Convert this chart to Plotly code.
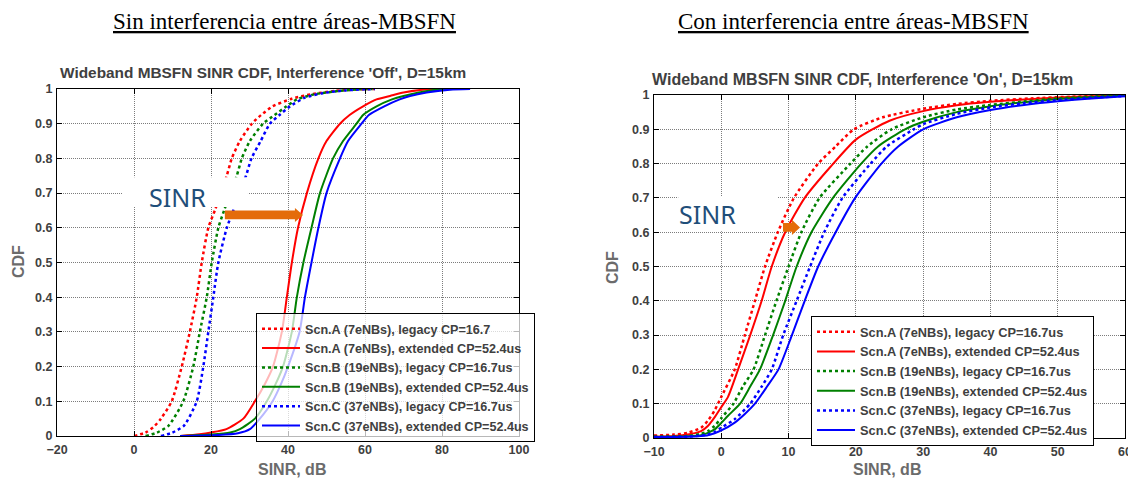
import plotly.graph_objects as go

# ---------------- data ----------------
# Left panel: Interference 'Off'
off_names = ["Scn.A (7eNBs), legacy CP=16.7",
             "Scn.A (7eNBs), extended CP=52.4us",
             "Scn.B (19eNBs), legacy CP=16.7us",
             "Scn.B (19eNBs), extended CP=52.4us",
             "Scn.C (37eNBs), legacy CP=16.7us",
             "Scn.C (37eNBs), extended CP=52.4us"]

off_a_leg_x = [0, 3, 5, 7, 9.8, 12.4, 14.5, 16.3, 17.6, 19.3, 21, 22.6, 24.1, 25.4, 27.5, 30.6, 33, 36, 41, 46, 52, 58, 62.6]
off_a_leg_y = [0, 0.01, 0.025, 0.05, 0.1, 0.2, 0.3, 0.4, 0.5, 0.6, 0.65, 0.7, 0.75, 0.8, 0.85, 0.9, 0.925, 0.95, 0.972, 0.985, 0.994, 0.999, 1.0]
off_a_ext_x = [12, 17, 20, 24, 28.4, 31.4, 34, 36.1, 38.4, 39.7, 41, 42.6, 44.9, 47.9, 50, 53.5, 56, 59.5, 63, 66.5, 70, 75, 80]
off_a_ext_y = [0, 0.005, 0.01, 0.02, 0.05, 0.1, 0.15, 0.2, 0.3, 0.4, 0.5, 0.6, 0.7, 0.8, 0.85, 0.9, 0.925, 0.95, 0.97, 0.98, 0.99, 0.998, 1.0]
off_b_leg_x = [3, 6, 9, 12.8, 15.4, 17.1, 18.9, 20.2, 21.9, 23.4, 25, 26.7, 28, 30.1, 33.5, 36.5, 39.6, 42.3, 47, 53, 58, 62]
off_b_leg_y = [0, 0.01, 0.03, 0.1, 0.2, 0.3, 0.4, 0.5, 0.6, 0.65, 0.7, 0.75, 0.8, 0.85, 0.9, 0.925, 0.95, 0.97, 0.985, 0.994, 0.999, 1.0]
off_b_ext_x = [12, 20, 25, 27.5, 31.4, 34.5, 36.8, 38.7, 41, 42.3, 44, 46.1, 48.3, 51.7, 54.3, 57.8, 59.5, 63, 67, 70, 74, 78.6, 83]
off_b_ext_y = [0, 0.004, 0.01, 0.02, 0.05, 0.1, 0.15, 0.2, 0.3, 0.4, 0.5, 0.6, 0.7, 0.8, 0.85, 0.9, 0.925, 0.95, 0.97, 0.98, 0.99, 0.998, 1.0]
off_c_leg_x = [7, 10, 13, 16.3, 18, 19.3, 20.6, 21.9, 24.1, 25.8, 27.3, 29.1, 30.5, 32.9, 35.3, 37.8, 40.5, 44.4, 49, 55, 60, 62.6]
off_c_leg_y = [0, 0.01, 0.03, 0.1, 0.2, 0.3, 0.4, 0.5, 0.6, 0.65, 0.7, 0.75, 0.8, 0.85, 0.9, 0.925, 0.95, 0.975, 0.988, 0.996, 0.999, 1.0]
off_c_ext_x = [12, 22, 27, 30.1, 32.7, 36, 38.2, 40, 43, 44.4, 46.1, 47.9, 50, 53.5, 55.6, 59.1, 61, 65, 69, 71.7, 76, 82, 87.3]
off_c_ext_y = [0, 0.003, 0.008, 0.02, 0.05, 0.1, 0.15, 0.2, 0.3, 0.4, 0.5, 0.6, 0.7, 0.8, 0.85, 0.9, 0.925, 0.95, 0.97, 0.98, 0.99, 0.998, 1.0]

# Right panel: Interference 'On'
on_names = ["Scn.A (7eNBs), legacy CP=16.7us",
            "Scn.A (7eNBs), extended CP=52.4us",
            "Scn.B (19eNBs), legacy CP=16.7us",
            "Scn.B (19eNBs), extended CP=52.4us",
            "Scn.C (37eNBs), legacy CP=16.7us",
            "Scn.C (37eNBs), extended CP=52.4us"]

on_a_leg_x = [-10, -7, -5, -3, -2, -1, 0, 2, 3.5, 5, 6.5, 8.4, 10.8, 14.4, 17, 19.7, 24, 30, 35, 40, 46, 52, 60]
on_a_leg_y = [0.007, 0.01, 0.015, 0.03, 0.05, 0.08, 0.12, 0.2, 0.3, 0.4, 0.5, 0.6, 0.7, 0.8, 0.85, 0.9, 0.935, 0.96, 0.974, 0.983, 0.99, 0.995, 0.999]
on_a_ext_x = [-10, -7, -5, -3, -2, -1, 0, 1, 2.5, 4.3, 6, 7.5, 9.5, 12.4, 16.2, 20, 25, 30, 35, 40, 45, 50, 55, 60]
on_a_ext_y = [0.004, 0.006, 0.01, 0.02, 0.035, 0.06, 0.09, 0.12, 0.2, 0.3, 0.4, 0.5, 0.6, 0.7, 0.79, 0.87, 0.925, 0.953, 0.97, 0.98, 0.987, 0.993, 0.996, 0.999]
on_b_leg_x = [-10, -5, -3, -2, -1, 0, 1.8, 3.2, 4.8, 6.5, 8.2, 10, 11.9, 14.6, 19.2, 21.7, 25.3, 30, 35, 40, 45, 50, 55, 60]
on_b_leg_y = [0.004, 0.006, 0.012, 0.02, 0.035, 0.058, 0.1, 0.15, 0.2, 0.3, 0.4, 0.5, 0.6, 0.7, 0.8, 0.85, 0.9, 0.935, 0.958, 0.971, 0.981, 0.99, 0.995, 0.998]
on_b_ext_x = [-10, -5, -3, -2, -1, 0, 1, 2.8, 4.3, 5.75, 7.7, 9.5, 11.2, 13.4, 16.6, 20.8, 23.3, 27.3, 30, 35, 40, 45, 50, 55, 60]
on_b_ext_y = [0.003, 0.005, 0.008, 0.015, 0.025, 0.044, 0.065, 0.1, 0.15, 0.2, 0.3, 0.4, 0.5, 0.6, 0.7, 0.8, 0.85, 0.9, 0.922, 0.95, 0.967, 0.979, 0.988, 0.994, 0.998]
on_c_leg_x = [-10, -5, -3, -2, -1, 0, 2, 4.3, 6, 7.5, 9.2, 11.2, 13.2, 15.3, 18.0, 22.2, 24.6, 28.6, 30, 35, 40, 45, 50, 55, 60]
on_c_leg_y = [0.003, 0.004, 0.007, 0.01, 0.018, 0.03, 0.055, 0.1, 0.15, 0.2, 0.3, 0.4, 0.5, 0.6, 0.7, 0.8, 0.85, 0.9, 0.915, 0.945, 0.964, 0.976, 0.985, 0.992, 0.997]
on_c_ext_x = [-10, -5, -3, -2, -1, 0, 2, 3.5, 5, 6.8, 8.5, 10.5, 12.4, 14.4, 17, 19.9, 23.8, 26.3, 30, 35, 40, 45, 50, 55, 60]
on_c_ext_y = [0.003, 0.004, 0.006, 0.008, 0.014, 0.022, 0.045, 0.07, 0.1, 0.15, 0.2, 0.3, 0.4, 0.5, 0.6, 0.7, 0.8, 0.85, 0.9, 0.935, 0.956, 0.971, 0.982, 0.99, 0.996]

x_ticks_off = [-20, 0, 20, 40, 60, 80, 100]
x_ticks_on = [-10, 0, 10, 20, 30, 40, 50, 60]
y_ticks = [0, 0.1, 0.2, 0.3, 0.4, 0.5, 0.6, 0.7, 0.8, 0.9, 1]

colors = ["#ff0000", "#ff0000", "#008000", "#008000", "#0000ff", "#0000ff"]
dashes = ["dot", "solid", "dot", "solid", "dot", "solid"]

# ---------------- figure ----------------
# the page body has an 8px margin, so the figure is 8px smaller and positions are offset
OFF = 8
W, H = 1136 - OFF, 479 - OFF
def fx(p):
    return (p - OFF) / W
def fy(p):
    return 1 - (p - OFF) / H

SANS = "Liberation Sans, Arial, sans-serif"
SERIF = "Liberation Serif, Times New Roman, serif"
TXT = "#404040"
AXT = "#6b6b6b"

fig = go.Figure()

off_series = [(off_a_leg_x, off_a_leg_y), (off_a_ext_x, off_a_ext_y),
              (off_b_leg_x, off_b_leg_y), (off_b_ext_x, off_b_ext_y),
              (off_c_leg_x, off_c_leg_y), (off_c_ext_x, off_c_ext_y)]
on_series = [(on_a_leg_x, on_a_leg_y), (on_a_ext_x, on_a_ext_y),
             (on_b_leg_x, on_b_leg_y), (on_b_ext_x, on_b_ext_y),
             (on_c_leg_x, on_c_leg_y), (on_c_ext_x, on_c_ext_y)]

for i, (xs, ys) in enumerate(off_series):
    fig.add_trace(go.Scatter(x=xs, y=ys, mode="lines", name=off_names[i],
                             line=dict(color=colors[i], dash=dashes[i], shape="spline", smoothing=0.6,
                                       width=2.5 if dashes[i] == "dot" else 2),
                             xaxis="x", yaxis="y", legend="legend"))
for i, (xs, ys) in enumerate(on_series):
    fig.add_trace(go.Scatter(x=xs, y=ys, mode="lines", name=on_names[i],
                             line=dict(color=colors[i], dash=dashes[i], shape="spline", smoothing=0.6,
                                       width=2.5 if dashes[i] == "dot" else 2),
                             xaxis="x2", yaxis="y2", legend="legend2"))

axis_common = dict(showline=True, linecolor="black", linewidth=1, mirror="allticks",
                   ticks="inside", ticklen=5, tickcolor="black",
                   showgrid=True, gridcolor="#7c7c7c", griddash="1px,1px", gridwidth=1,
                   zeroline=False, automargin=False,
                   tickfont=dict(family=SANS, size=12.5, color=TXT, weight="bold"))

fig.update_layout(
    width=W, height=H, autosize=False,
    margin=dict(l=0, r=0, t=0, b=0, autoexpand=False),
    paper_bgcolor="white", plot_bgcolor="white",
    xaxis=dict(domain=[fx(57), fx(519)], range=[-20, 100], tickvals=x_ticks_off,
               anchor="y", ticklabelstandoff=2, **axis_common),
    yaxis=dict(domain=[fy(436), fy(89)], range=[0, 1], tickvals=y_ticks,
               anchor="x", ticklabelstandoff=1, **axis_common),
    xaxis2=dict(domain=[fx(654), fx(1125)], range=[-10, 60], tickvals=x_ticks_on,
                anchor="y2", ticklabelstandoff=2, **axis_common),
    yaxis2=dict(domain=[fy(438), fy(95)], range=[0, 1], tickvals=y_ticks,
                anchor="x2", ticklabelstandoff=1, **axis_common),
    legend=dict(x=fx(256), y=fy(313), xanchor="left", yanchor="top",
                bgcolor="rgba(255,255,255,0.72)", bordercolor="black", borderwidth=1,
                font=dict(family=SANS, size=12.6, color=TXT, weight="bold"),
                itemwidth=38, tracegroupgap=0),
    legend2=dict(x=fx(811), y=fy(316), xanchor="left", yanchor="top",
                 bgcolor="white", bordercolor="black", borderwidth=1,
                 font=dict(family=SANS, size=12.8, color=TXT, weight="bold"),
                 itemwidth=38, tracegroupgap=0),
)

# white boxes behind the "SINR" labels
fig.add_shape(type="rect", xref="x", yref="y", x0=-2.9, x1=29.6, y0=0.66, y1=0.746,
              fillcolor="white", line=dict(width=0), layer="above")
fig.add_shape(type="rect", xref="x2", yref="y2", x0=-6.4, x1=8.4, y0=0.603, y1=0.703,
              fillcolor="white", line=dict(width=0), layer="between")

# orange arrows
ORANGE = "#e46c0a"
fig.add_shape(type="path", xref="x", yref="y",
              path="M 23.6,0.6245 L 41.8,0.6245 L 41.8,0.617 L 43.9,0.637 "
                   "L 41.8,0.657 L 41.8,0.6495 L 23.6,0.6495 Z",
              fillcolor=ORANGE, line=dict(width=0), layer="above")
fig.add_shape(type="path", xref="x2", yref="y2",
              path="M 9.17,0.601 L 10.5,0.601 L 10.5,0.592 L 11.7,0.614 "
                   "L 10.5,0.636 L 10.5,0.627 L 9.17,0.627 Z",
              fillcolor=ORANGE, line=dict(width=0), layer="above")

# annotations
ann = [
    dict(text="<u>Sin interferencia entre áreas-MBSFN</u>", x=fx(284), y=fy(22),
         font=dict(family=SERIF, size=23, color="black")),
    dict(text="<u>Con interferencia entre áreas-MBSFN</u>", x=fx(853), y=fy(22),
         font=dict(family=SERIF, size=23, color="black")),
    dict(text="Wideband MBSFN SINR CDF, Interference 'Off', D=15km", x=fx(263), y=fy(73),
         font=dict(family=SANS, size=15.4, color=TXT, weight="bold")),
    dict(text="Wideband MBSFN SINR CDF, Interference 'On', D=15km", x=fx(862), y=fy(80),
         font=dict(family=SANS, size=16, color=TXT, weight="bold")),
    dict(text="SINR, dB", x=fx(292), y=fy(469),
         font=dict(family=SANS, size=16, color=AXT, weight="bold")),
    dict(text="SINR, dB", x=fx(887), y=fy(469),
         font=dict(family=SANS, size=16, color=AXT, weight="bold")),
    dict(text="CDF", x=fx(18), y=fy(262), textangle=-90,
         font=dict(family=SANS, size=16, color=AXT, weight="bold")),
    dict(text="CDF", x=fx(612), y=fy(268), textangle=-90,
         font=dict(family=SANS, size=16, color=AXT, weight="bold")),
]
for a in ann:
    fig.add_annotation(xref="paper", yref="paper", showarrow=False,
                       xanchor="center", yanchor="middle", **a)

fig.add_annotation(text="SINR", xref="x", yref="y", x=11.2, y=0.689, showarrow=False,
                   font=dict(family="Noto Sans, Open Sans, sans-serif", size=25, color="#1f4e79"))
fig.add_annotation(text="SINR", xref="x2", yref="y2", x=-2.1, y=0.653, showarrow=False,
                   font=dict(family="Noto Sans, Open Sans, sans-serif", size=25, color="#1f4e79"))

fig.write_html("out.html")
